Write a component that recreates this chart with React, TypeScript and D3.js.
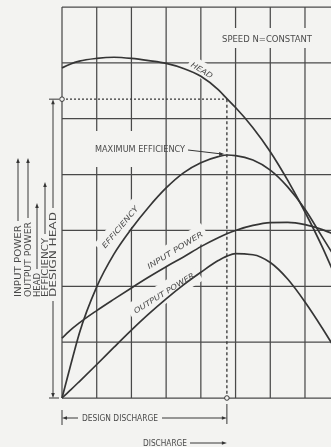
import React from "react";
import * as d3 from "d3";

// pump characteristic at constant speed in grid units
const discharge = [0, 0.25, 0.5, 1, 1.5, 2, 2.5, 3, 3.5, 4, 4.5, 4.75, 5, 5.5, 6, 6.5, 7, 7.5, 7.8];
const head = [5.91, 5.98, 6.03, 6.08, 6.1, 6.08, 6.04, 5.99, 5.9, 5.76, 5.52, 5.36, 5.2, 4.84, 4.41, 3.9, 3.33, 2.7, 2.28];
const efficiency = [0, 0.59, 1.16, 1.99, 2.58, 3.03, 3.42, 3.76, 4.03, 4.21, 4.32, 4.35, 4.34, 4.26, 4.08, 3.78, 3.38, 2.88, 2.58];
const inputPower = [1.07, 1.22, 1.345, 1.565, 1.77, 1.97, 2.165, 2.35, 2.525, 2.71, 2.87, 2.94, 3.0, 3.09, 3.14, 3.145, 3.105, 3.015, 2.94];
const outputPower = [0, 0.145, 0.295, 0.6, 0.91, 1.215, 1.505, 1.775, 2.025, 2.25, 2.46, 2.54, 2.585, 2.565, 2.425, 2.13, 1.72, 1.25, 0.95];

const gridX = [0, 1, 2, 3, 4, 5, 6, 7, 8];
const gridY = [0, 1, 2, 3, 4, 5, 6, 7];
const designQ = 4.75;
const designHead = 5.35;
const sideLabels = ["INPUT POWER", "OUTPUT POWER", "HEAD", "EFFICIENCY", "DESIGN HEAD"];

const W = 331;
const H = 447;
const BG = "#f3f3f1";
const INK = "#363636";
const TXT = "#4a4a4a";
const FONT = "'Liberation Sans Narrow', 'DejaVu Sans Condensed', sans-serif";

function arrow(x: number, y: number, dir: string, len = 5, half = 1.8) {
  let pts: number[][];
  if (dir === "up") pts = [[x, y], [x - half, y + len], [x + half, y + len]];
  else if (dir === "down") pts = [[x, y], [x - half, y - len], [x + half, y - len]];
  else if (dir === "left") pts = [[x, y], [x + len, y - half], [x + len, y + half]];
  else pts = [[x, y], [x - len, y - half], [x - len, y + half]];
  return <polygon points={pts.map((p) => p.join(",")).join(" ")} fill={INK} />;
}

export default function App() {
  const x = d3.scaleLinear().domain([0, 8]).range([62, 339.7]);
  const y = d3.scaleLinear().domain([0, 7]).range([398, 7]);

  const line = d3
    .line<number>()
    .x((_, i) => x(discharge[i]))
    .y((d) => y(d))
    .curve(d3.curveMonotoneX);

  const series = [head, efficiency, inputPower, outputPower];

  // labels sitting on the curves (the grid is broken behind them)
  const curveLabels = [
    { text: "HEAD", cx: 202, cy: 70, angle: 31, len: 24, pad: 3 },
    { text: "EFFICIENCY", cx: 120, cy: 227, angle: -50, len: 52, pad: 4 },
    { text: "INPUT POWER", cx: 175, cy: 250, angle: -32, len: 64, pad: 4 },
    { text: "OUTPUT POWER", cx: 164, cy: 293, angle: -32, len: 70, pad: 5 },
  ];

  const dx = x(designQ);
  const dy = y(designHead);
  const peakX = x(4.7);
  const peakY = y(d3.max(efficiency) as number);

  // left-hand legend columns: centre x, text length, arrow top
  const cols = [
    { cx: 18, len: 72, top: 158 },
    { cx: 28, len: 75, top: 158 },
    { cx: 37, len: 24, top: 203 },
    { cx: 45, len: 59, top: 182 },
    { cx: 53, len: 85, top: dy },
  ];
  const textBottom = 297;

  return (
    <svg
      width={W}
      height={H}
      style={{ position: "absolute", left: 0, top: 0, display: "block" }}
      fontFamily={FONT}
    >
      <defs>
        <filter id="soft">
          <feGaussianBlur stdDeviation="0.35" />
        </filter>
      </defs>
      <rect width={W} height={H} fill={BG} />
      <g filter="url(#soft)">
        {/* grid */}
        <g stroke="#4a4a4a" strokeWidth={1.25}>
          {gridX.map((g) => (
            <line key={"gx" + g} x1={x(g)} x2={x(g)} y1={y(7)} y2={y(0)} />
          ))}
          {gridY.map((g) => (
            <line key={"gy" + g} x1={x(0)} x2={W} y1={y(g)} y2={y(g)} />
          ))}
        </g>

        {/* gaps in the grid behind lettering */}
        <g fill={BG}>
          <rect x={219} y={28} width={96} height={20} />
          <rect x={88} y={131} width={50} height={36} />
          {curveLabels.map((l) => (
            <rect
              key={"m" + l.text}
              transform={`translate(${l.cx},${l.cy}) rotate(${l.angle})`}
              x={-l.len / 2 - l.pad}
              y={-5 - l.pad}
              width={l.len + 2 * l.pad}
              height={10 + 2 * l.pad}
            />
          ))}
        </g>

        {/* design point construction lines */}
        <line x1={x(0)} x2={dx} y1={dy} y2={dy} stroke={INK} strokeWidth={1.3} strokeDasharray="2 2" />
        <line x1={dx} x2={dx} y1={dy} y2={y(0)} stroke={INK} strokeWidth={1.3} strokeDasharray="3 2.5" />

        {/* curves */}
        <g fill="none" stroke={INK} strokeWidth={1.7}>
          {series.map((s, i) => (
            <path key={i} d={line(s) || ""} />
          ))}
        </g>

        <circle cx={x(0)} cy={dy} r={2.3} fill={BG} stroke={INK} strokeWidth={1} />
        <circle cx={dx} cy={y(0)} r={2.3} fill={BG} stroke={INK} strokeWidth={1} />

        {/* curve labels */}
        <g fill={TXT} fontSize={7.5} fontStyle="italic">
          {curveLabels.map((l) => (
            <text
              key={l.text}
              transform={`translate(${l.cx},${l.cy}) rotate(${l.angle})`}
              y={2.7}
              textAnchor="middle"
              textLength={l.len}
              lengthAdjust="spacingAndGlyphs"
            >
              {l.text}
            </text>
          ))}
        </g>

        <text x={222} y={42} fontSize={9} fill={TXT} textLength={90} lengthAdjust="spacingAndGlyphs">
          SPEED N=CONSTANT
        </text>
        <text x={95} y={152} fontSize={8} fill={TXT} textLength={90} lengthAdjust="spacingAndGlyphs">
          MAXIMUM EFFICIENCY
        </text>
        <line x1={188} x2={peakX - 3} y1={150} y2={peakY - 1} stroke={INK} strokeWidth={1} />
        {arrow(peakX - 1, peakY - 1, "right", 5, 2)}

        {/* left legend */}
        <g fill={TXT} fontSize={8.5}>
          {sideLabels.map((s, i) => {
            const c = cols[i];
            return (
              <g key={s}>
                <text
                  transform={`translate(${c.cx + 3},${textBottom}) rotate(-90)`}
                  textLength={c.len}
                  lengthAdjust="spacingAndGlyphs"
                >
                  {s}
                </text>
                <line
                  x1={c.cx}
                  x2={c.cx}
                  y1={textBottom - c.len - 4}
                  y2={c.top + 3}
                  stroke={INK}
                  strokeWidth={1}
                />
                {arrow(c.cx, c.top, "up")}
              </g>
            );
          })}
        </g>
        {/* design head dimension */}
        <line x1={53} x2={53} y1={textBottom + 4} y2={y(0) - 3} stroke={INK} strokeWidth={1} />
        {arrow(53, y(0), "down")}
        <line x1={49} x2={59} y1={dy} y2={dy} stroke={INK} strokeWidth={1} />
        <line x1={49} x2={59} y1={y(0)} y2={y(0)} stroke={INK} strokeWidth={1} />

        {/* design discharge dimension */}
        <g stroke={INK} strokeWidth={1}>
          <line x1={x(0)} x2={x(0)} y1={410} y2={425} />
          <line x1={dx} x2={dx} y1={404} y2={424} />
          <line x1={x(0) + 3} x2={78} y1={418} y2={418} />
          <line x1={162} x2={dx - 3} y1={418} y2={418} />
          <line x1={190} x2={dx - 3} y1={443} y2={443} />
        </g>
        {arrow(x(0), 418, "left")}
        {arrow(dx, 418, "right")}
        {arrow(dx, 443, "right")}
        <text x={82} y={421} fontSize={8} fill={TXT} textLength={76} lengthAdjust="spacingAndGlyphs">
          DESIGN DISCHARGE
        </text>
        <text x={143} y={446} fontSize={8} fill={TXT} textLength={44} lengthAdjust="spacingAndGlyphs">
          DISCHARGE
        </text>
      </g>
    </svg>
  );
}
